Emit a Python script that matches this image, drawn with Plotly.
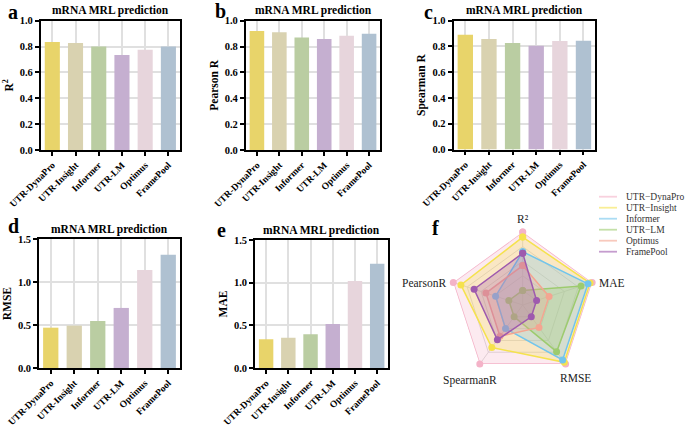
import plotly.graph_objects as go

W, H = 685, 427
SERIF = "Liberation Serif, Times New Roman, serif"

# ---------------- data ----------------
models = ["UTR-DynaPro", "UTR-Insight", "Informer", "UTR-LM", "Optimus", "FramePool"]
r2 = [0.835, 0.827, 0.800, 0.735, 0.776, 0.800]
pearson = [0.920, 0.910, 0.871, 0.858, 0.884, 0.899]
spearman = [0.891, 0.857, 0.826, 0.805, 0.842, 0.844]
rmse = [0.470, 0.494, 0.548, 0.700, 1.143, 1.321]
mae = [0.336, 0.355, 0.395, 0.516, 1.020, 1.223]

bar_colors = ["#E8D46A", "#D9D2B0", "#BACDA2", "#C5AFD0", "#E7D5DC", "#AFC1D1"]

radar_axes = ["R²", "MAE", "RMSE", "SpearmanR", "PearsonR"]
radar_names = ["UTR−DynaPro", "UTR−Insight", "Informer", "UTR−LM", "Optimus", "FramePool"]
radar_dynapro = [1.00, 1.00, 1.00, 1.00, 1.00]
radar_insight = [0.93, 0.97, 0.97, 0.72, 0.89]
radar_informer = [0.73, 0.94, 0.93, 0.40, 0.39]
radar_utrlm = [0.20, 0.84, 0.79, 0.20, 0.20]
radar_optimus = [0.54, 0.38, 0.38, 0.53, 0.53]
radar_framepool = [0.71, 0.20, 0.20, 0.59, 0.70]
radar_values = [radar_dynapro, radar_insight, radar_informer, radar_utrlm, radar_optimus, radar_framepool]
radar_colors = ["#F4B3C8", "#F5E24E", "#72C5EC", "#9DCB6E", "#F4A591", "#9E5AAE"]


def hexa(c, a):
    c = c.lstrip("#")
    return "rgba(%d,%d,%d,%.2f)" % (int(c[0:2], 16), int(c[2:4], 16), int(c[4:6], 16), a)


def px(v):
    return v / W


def py(v):
    return 1 - v / H


panels = [
    dict(lab="a", vals=r2, ytitle="R<sup>2</sup>", x0=40.7, x1=180, y0=20.7, y1=150, yr=[0, 1.0], dt=0.2, lx=13, ly=12),
    dict(lab="b", vals=pearson, ytitle="Pearson R", x0=245.7, x1=380.3, y0=20.7, y1=150, yr=[0, 1.0], dt=0.2, lx=220, ly=11),
    dict(lab="c", vals=spearman, ytitle="Spearman R", x0=453.5, x1=595.3, y0=20.7, y1=149.5, yr=[0, 1.0], dt=0.2, lx=428, ly=12),
    dict(lab="d", vals=rmse, ytitle="RMSE", x0=39, x1=180, y0=239.3, y1=368, yr=[0, 1.5], dt=0.5, lx=13, ly=226),
    dict(lab="e", vals=mae, ytitle="MAE", x0=255, x1=388.3, y0=240, y1=368, yr=[0, 1.5], dt=0.5, lx=221, ly=230),
]

fig = go.Figure()
layout = dict(
    template="none",
    width=W, height=H, margin=dict(l=0, r=0, t=0, b=0, autoexpand=False),
    paper_bgcolor="white", plot_bgcolor="white", showlegend=False,
    font=dict(family=SERIF, color="black"),
    bargap=0.35,
)
annotations = []
shapes = []

for i, p in enumerate(panels):
    n = "" if i == 0 else str(i + 1)
    fig.add_trace(go.Bar(x=models, y=p["vals"], marker=dict(color=bar_colors, line=dict(width=0)),
                         xaxis="x" + n, yaxis="y" + n, showlegend=False))
    layout["xaxis" + n] = dict(
        domain=[px(p["x0"]), px(p["x1"])], anchor="y" + n, automargin=False,
        showline=True, mirror=True, linecolor="black", linewidth=1.6,
        showgrid=True, gridcolor="#E0E0E0", gridwidth=1.5,
        ticks="outside", ticklen=4, tickwidth=1.5, tickcolor="black",
        tickangle=-45, tickfont=dict(family=SERIF, size=9.5, color="black", weight="bold"),
    )
    layout["yaxis" + n] = dict(
        domain=[py(p["y1"]), py(p["y0"])], anchor="x" + n, automargin=False,
        range=p["yr"], dtick=p["dt"], tickformat=".1f",
        showline=True, mirror=True, linecolor="black", linewidth=1.6,
        showgrid=True, gridcolor="#E0E0E0", gridwidth=1.5, zeroline=False,
        ticks="outside", ticklen=4, tickwidth=1.5, tickcolor="black",
        tickfont=dict(family=SERIF, size=10.5, color="black", weight="bold"),
        title=dict(text=p["ytitle"], font=dict(family=SERIF, size=11.5, color="black", weight="bold"), standoff=4),
    )
    annotations.append(dict(
        text="mRNA MRL prediction", xref="paper", yref="paper",
        x=px((p["x0"] + p["x1"]) / 2), y=py(p["y0"] - 10), xanchor="center", yanchor="middle",
        showarrow=False, font=dict(family=SERIF, size=11.5, color="black", weight="bold"),
    ))
    annotations.append(dict(
        text=p["lab"], xref="paper", yref="paper", x=px(p["lx"]), y=py(p["ly"]),
        xanchor="center", yanchor="middle", showarrow=False,
        font=dict(family=SERIF, size=20, color="black", weight="bold"),
    ))

# ---------------- radar ----------------
for name, vals, col in zip(radar_names, radar_values, radar_colors):
    fig.add_trace(go.Scatterpolar(
        r=vals + vals[:1], theta=radar_axes + radar_axes[:1], name=name,
        mode="lines+markers", fill="toself", fillcolor=hexa(col, 0.27),
        line=dict(color=col, width=1.5), marker=dict(color=col, size=7),
        cliponaxis=False, subplot="polar", showlegend=False,
    ))

cx, cy, rad = 522.7, 305.0, 73.0
layout["polar"] = dict(
    domain=dict(x=[px(cx - rad), px(cx + rad)], y=[py(cy + rad), py(cy - rad)]),
    bgcolor="rgba(0,0,0,0)", gridshape="linear",
    angularaxis=dict(rotation=90, direction="clockwise", showline=False, ticks="",
                     showticklabels=False, gridcolor="#D8D8D8", gridwidth=1),
    radialaxis=dict(range=[0, 1.0], showticklabels=False, ticks="", showline=False,
                    gridcolor="#D8D8D8", gridwidth=1, tickvals=[0.2, 0.4, 0.6, 0.8, 1.0]),
)
# radar axis labels (placed like the reference: centred around each spoke end)
radar_label_pos = [(522.5, 219), (611.5, 283), (575, 378), (470, 380), (423.5, 283)]
for lab, (lx, ly) in zip(radar_axes, radar_label_pos):
    annotations.append(dict(text=lab, xref="paper", yref="paper", x=px(lx), y=py(ly),
                            xanchor="center", yanchor="middle", showarrow=False,
                            font=dict(family=SERIF, size=11.5, color="#222")))

annotations.append(dict(text="f", xref="paper", yref="paper", x=px(435), y=py(228),
                        xanchor="center", yanchor="middle", showarrow=False,
                        font=dict(family=SERIF, size=20, color="black", weight="bold")))

# manual compact legend
for i, (name, col) in enumerate(zip(radar_names, radar_colors)):
    yy = 196.7 + i * 11.0
    shapes.append(dict(type="line", xref="paper", yref="paper", x0=px(599), x1=px(617),
                       y0=py(yy), y1=py(yy), line=dict(color=hexa(col, 0.6), width=1.8)))
    annotations.append(dict(text=name, xref="paper", yref="paper", x=px(624), y=py(yy),
                            xanchor="left", yanchor="middle", showarrow=False,
                            font=dict(family=SERIF, size=9.5, color="#333")))

layout["annotations"] = annotations
layout["shapes"] = shapes
fig.update_layout(**layout)
fig.write_html("out.html", config={"displayModeBar": False},
               post_script="document.body.style.margin='0';document.body.style.padding='0';document.documentElement.style.overflow='hidden';")
